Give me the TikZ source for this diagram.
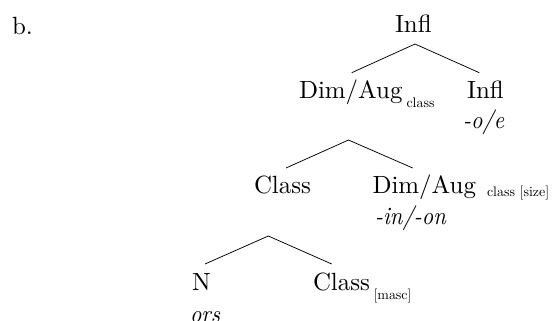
\documentclass[tikz,border=0pt]{standalone}
\usepackage{fontspec}
\setmainfont{lmroman10-regular.otf}[ItalicFont=lmroman10-italic.otf,ItalicFeatures={FakeStretch=0.9}]
\begin{document}
\begin{tikzpicture}[x=1bp,y=-1bp,
  lbl/.style={inner sep=0pt,outer sep=0pt,anchor=base west,font=\fontsize{25}{30}\selectfont},
  sub/.style={inner sep=0pt,outer sep=0pt,anchor=base west,font=\fontsize{14}{17}\selectfont},
  morph/.style={inner sep=0pt,outer sep=0pt,anchor=base west,font=\fontsize{25}{30}\selectfont\itshape},
  branch/.style={line width=0.75bp,line join=miter}]
\useasboundingbox (0,0) rectangle (553,320);
\clip (0,0) rectangle (553,320);
% label
\node[lbl] (ex) at (12,34) {b.};
% row 1
\node[lbl] (infltop) at (395,32.5) {Infl};
% row 2
\node[lbl] (dimaugA) at (299,98.5) {Dim/Aug};
\node[sub] (dimaugAsub) at (406.5,107.5) {class};
\node[lbl] (inflB) at (467,98.5) {Infl};
\node[morph] (oe) at (463,128.5) {-o/e};
% row 3
\node[lbl] (classA) at (254,193.5) {Class};
\node[lbl] (dimaugB) at (372.5,193.5) {Dim/Aug};
\node[sub] (dimaugBsub) at (487,196.5) {class [size]};
\node[morph] (inon) at (375,224) {-in/-on};
% row 4
\node[lbl] (nounN) at (192,290) {N};
\node[lbl] (classB) at (313,290) {Class};
\node[sub] (classBsub) at (373.5,299) {[masc]};
\node[morph] (ors) at (190,322.5) {ors};
% branch points
\coordinate (apexA) at (415,44);
\coordinate (endAl) at (351.7,72.7);
\coordinate (endAr) at (479.3,72.7);
\coordinate (apexB) at (348.5,140);
\coordinate (endBl) at (286,168);
\coordinate (endBr) at (412.7,168);
\coordinate (apexC) at (268.3,236);
\coordinate (endCl) at (205,264);
\coordinate (endCr) at (331.7,264);
\draw[branch] (endAl) -- (apexA) -- (endAr);
\draw[branch] (endBl) -- (apexB) -- (endBr);
\draw[branch] (endCl) -- (apexC) -- (endCr);
\end{tikzpicture}
\end{document}
